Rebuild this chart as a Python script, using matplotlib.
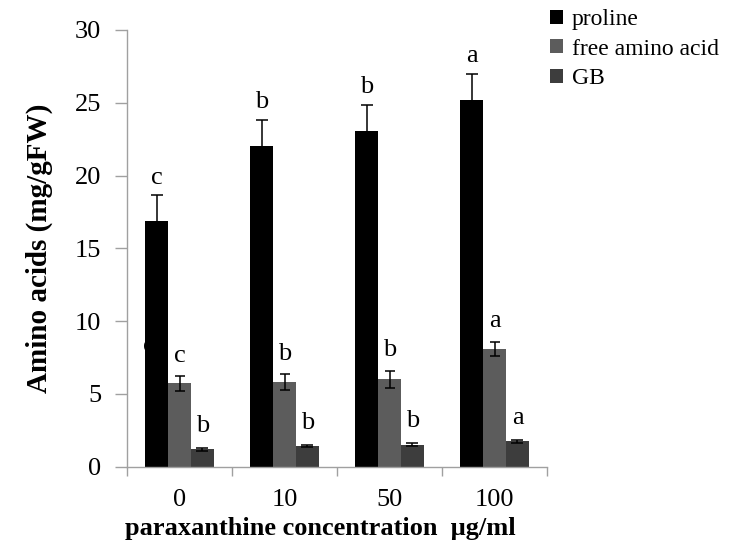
import matplotlib
matplotlib.use("Agg")
import matplotlib.pyplot as plt
import numpy as np

plt.rcParams['font.family'] = ['Liberation Serif', 'DejaVu Serif']

categories = ['0', '10', '50', '100']
series_names = ['proline', 'free amino acid', 'GB']
proline = [16.9, 22.0, 23.06, 25.17]
proline_err = [1.75, 1.84, 1.8, 1.83]
free_aa = [5.72, 5.79, 6.0, 8.08]
free_aa_err = [0.5, 0.55, 0.6, 0.5]
gb = [1.21, 1.40, 1.51, 1.74]
gb_err = [0.1, 0.07, 0.1, 0.1]
proline_letters = ['c', 'b', 'b', 'a']
free_letters = ['c', 'b', 'b', 'a']
gb_letters = ['b', 'b', 'b', 'a']
yticks = [0, 5, 10, 15, 20, 25, 30]

colors = ['#000000', '#5c5c5c', '#3d3d3d']
values = [proline, free_aa, gb]
errs = [proline_err, free_aa_err, gb_err]
letters = [proline_letters, free_letters, gb_letters]
letter_gap = [0.8, 1.0, 1.1]
capsizes = [4.6, 3.7, 4.2]

fig = plt.figure(figsize=(7.37, 5.45), dpi=100)
ax = fig.add_axes([127/737, 1-466.7/545, (547-127)/737, (466.7-30)/545])

x = np.arange(len(categories))
w = 0.219
offsets = [-w, 0, w]
handles = []
for i in range(3):
    b = ax.bar(x + offsets[i], values[i], w, color=colors[i], zorder=2,
               label=series_names[i])
    handles.append(b)
    ax.errorbar(x + offsets[i], values[i], yerr=errs[i], fmt='none',
                ecolor='black', elinewidth=1.1, capsize=capsizes[i],
                capthick=1.1, zorder=3)
    for j in range(len(categories)):
        ax.text(x[j] + offsets[i], values[i][j] + errs[i][j] + letter_gap[i],
                letters[i][j], ha='center', va='baseline', fontsize=19, zorder=4)

# partially hidden letter artifact behind the first proline bar
ax.text(x[0] - w - 0.07, 7.9, 'c', ha='center', va='baseline', fontsize=19, zorder=1)

ax.set_xlim(-0.5, 3.5)
ax.set_ylim(0, 30)
ax.set_yticks(yticks)
ax.set_xticks(x)
ax.set_xticklabels(categories)
ax.set_xticks(np.arange(-0.5, 4, 1), minor=True)
ax.tick_params(axis='x', which='major', length=0, labelsize=19, pad=16)
ax.tick_params(axis='x', which='minor', length=6.5, color='#a0a0a0', width=1)
ax.tick_params(axis='y', which='major', length=8.5, color='#a0a0a0', width=1,
               labelsize=19, pad=10)
for s in ['top', 'right']:
    ax.spines[s].set_visible(False)
for s in ['left', 'bottom']:
    ax.spines[s].set_color('#a0a0a0')
    ax.spines[s].set_linewidth(1)

ax.set_ylabel('Amino acids (mg/gFW)', fontsize=21, fontweight='bold', labelpad=16)
ax.set_xlabel('paraxanthine concentration  \u03bcg/ml', fontsize=19,
              fontweight='bold', labelpad=6)
ax.xaxis.set_label_coords(0.46, -0.115)

fig.legend(handles=handles, labels=series_names, loc='upper left',
           bbox_to_anchor=(541/737, 1.0), frameon=False, fontsize=17,
           handlelength=0.55, handleheight=0.55, handletextpad=0.35,
           labelspacing=0.35, borderaxespad=0)

fig.savefig('out.png', dpi=100)
